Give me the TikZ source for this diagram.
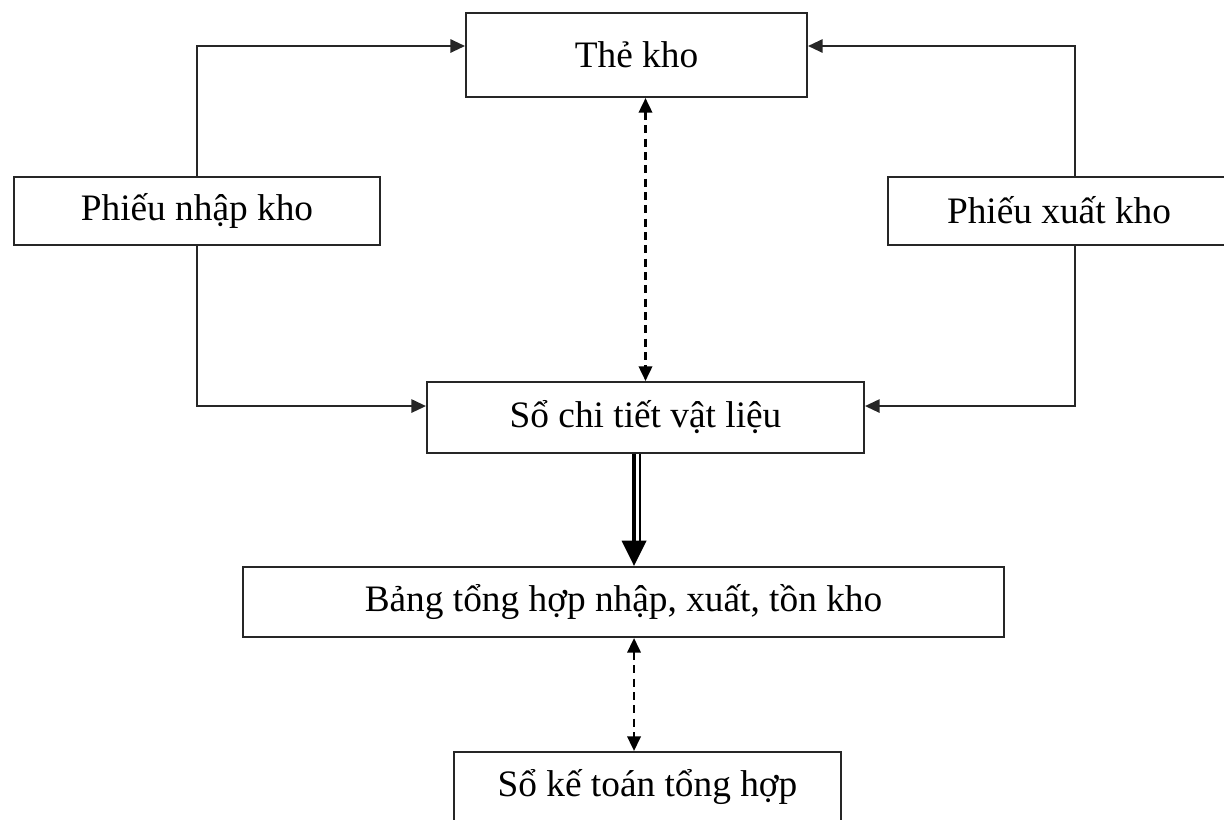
\documentclass[tikz,border=0pt]{standalone}
\usepackage{fontspec}
\setmainfont{Liberation Serif}
\usetikzlibrary{arrows.meta}
\begin{document}
\begin{tikzpicture}[x=0.75pt,y=-0.75pt,
  box/.style={draw=black!85,line width=1.5pt,inner sep=0pt,font=\fontsize{28}{32}\selectfont},
  conn/.style={line width=1.5pt,draw=black!85,-{Triangle[length=11pt,width=10pt]}},
  dconn/.style={line width=1.9pt,dash pattern=on 6pt off 4pt,{Triangle[length=11pt,width=10pt]}-{Triangle[length=11pt,width=10pt]}}]
\useasboundingbox (0,0) rectangle (1224,819);
% boxes
\node[box,minimum width=255.75pt,minimum height=63pt] (the) at (636.5,55) {Thẻ kho};
\node[box,minimum width=274.5pt,minimum height=51pt] (pn) at (197,211) {Phiếu nhập kho};
\node[box,minimum width=256.5pt,minimum height=51pt] (px) at (1059,211) {\raisebox{2pt}{Phiếu xuất kho}};
\node[box,minimum width=327.75pt,minimum height=53.25pt] (sct) at (645.5,417.5) {Sổ chi tiết vật liệu};
\node[box,minimum width=570.75pt,minimum height=52.5pt] (bth) at (623.5,602) {Bảng tổng hợp nhập, xuất, tồn kho};
\node[box,minimum width=290.25pt,minimum height=52.5pt] (skt) at (647.5,787) {Sổ kế toán tổng hợp};
% receipts and issues to the stock card and the detail ledger
\draw[conn] (pn.north) |- ([yshift=6.75pt]the.west);
\draw[conn] (pn.south) |- ([yshift=8.6pt]sct.west);
\draw[conn] ([xshift=12pt]px.north) |- ([yshift=6.75pt]the.east);
\draw[conn] ([xshift=12pt]px.south) |- ([yshift=8.6pt]sct.east);
% cross-checks
\draw[dconn] (the.south -| sct.north) -- (sct.north);
\coordinate (c2) at ([xshift=7.9pt]bth.south);
\draw[dconn] (c2) -- (c2 |- skt.north);
% summary transfer (double line)
\coordinate (c1) at ([xshift=-8.6pt]sct.south);
\draw[line width=2.8pt,-{Triangle[length=19pt,width=18pt]}] (c1) -- (c1 |- bth.north);
\draw[line width=1.3pt] ([xshift=4.2pt]c1) -- ([xshift=4.2pt,yshift=17pt]c1 |- bth.north);
\end{tikzpicture}
\end{document}
